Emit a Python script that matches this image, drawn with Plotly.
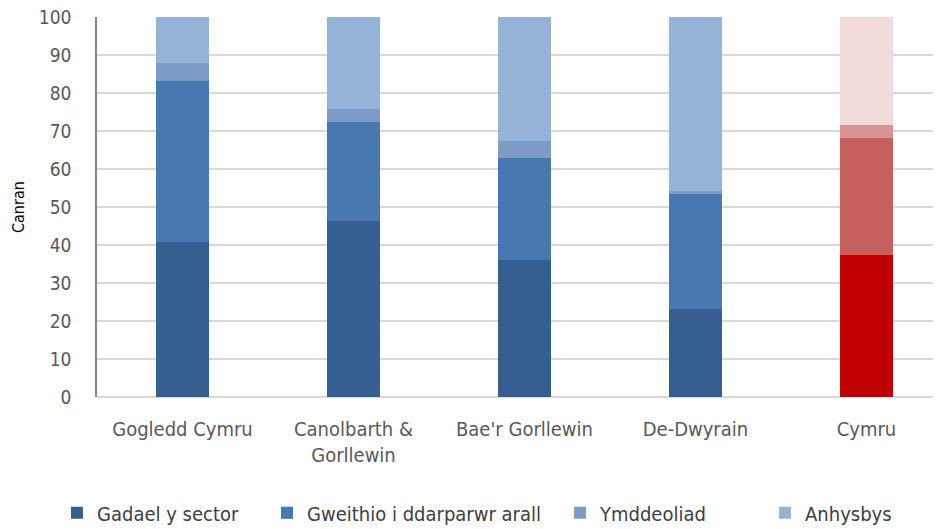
import plotly.graph_objects as go

categories = ["Gogledd Cymru", "Canolbarth &<br>Gorllewin", "Bae'r Gorllewin", "De-Dwyrain", "Cymru"]
series_names = ["Gadael y sector", "Gweithio i ddarparwr arall", "Ymddeoliad", "Anhysbys"]
gadael = [40.7, 46.2, 36.0, 23.2, 37.4]
gweithio = [42.4, 26.2, 27.0, 30.1, 30.8]
ymddeoliad = [4.8, 3.5, 4.4, 1.0, 3.4]
anhysbys = [12.1, 24.1, 32.6, 45.7, 28.4]
y_ticks = [0, 10, 20, 30, 40, 50, 60, 70, 80, 90, 100]
y_title = "Canran"

blue_colors = ["#365F91", "#4878B0", "#7C9BC6", "#95B3D7"]
red_colors = ["#C00000", "#C6605D", "#D99594", "#F2DCDB"]

values = [gadael, gweithio, ymddeoliad, anhysbys]
legend_ids = ["legend", "legend2", "legend3", "legend4"]
legend_x = [0.0525, 0.2776, 0.5916, 0.8114]

fig = go.Figure()
for name, vals, bc, rc, lid in zip(series_names, values, blue_colors, red_colors, legend_ids):
    colors = [bc] * (len(categories) - 1) + [rc]
    fig.add_trace(go.Bar(
        x=categories, y=vals, name=name,
        marker=dict(color=colors, line=dict(width=0)),
        width=0.31,
        hoverinfo="skip",
        legend=lid,
    ))

font_family = "DejaVu Sans Condensed, Liberation Sans Narrow, sans-serif"
legend_common = dict(xref="container", xanchor="left", yref="container", y=0.031, yanchor="middle",
                     font=dict(size=20, color="#404040"), itemwidth=30, bgcolor="rgba(0,0,0,0)")
legends = {lid: dict(x=lx, **legend_common) for lid, lx in zip(legend_ids, legend_x)}

fig.update_layout(
    barmode="stack",
    width=933, height=521,
    margin=dict(l=89, r=0, t=9, b=132, autoexpand=False),
    plot_bgcolor="white", paper_bgcolor="white",
    font=dict(family=font_family, color="#595959", size=20),
    showlegend=True,
    **legends,
    xaxis=dict(range=[-0.5, 4.436], showgrid=False, showline=False, ticks="", automargin=False,
               ticklabelstandoff=18,
               tickfont=dict(size=20, color="#595959")),
    yaxis=dict(range=[0, 100], tickvals=y_ticks, showgrid=True, gridcolor="#D9D9D9", gridwidth=1.5,
               showline=True, linecolor="#868686", linewidth=1.5, ticks="", automargin=False,
               ticklabelstandoff=20, ticklabeloverflow="allow",
               zeroline=True, zerolinecolor="#D9D9D9", zerolinewidth=1.5,
               tickfont=dict(size=19, color="#595959")),
    annotations=[dict(text=y_title, xref="paper", yref="paper", x=-0.0936, y=0.5,
                      xanchor="center", yanchor="middle", textangle=-90, showarrow=False,
                      font=dict(size=16, color="#000000"))],
)

fig.write_html("out.html")
